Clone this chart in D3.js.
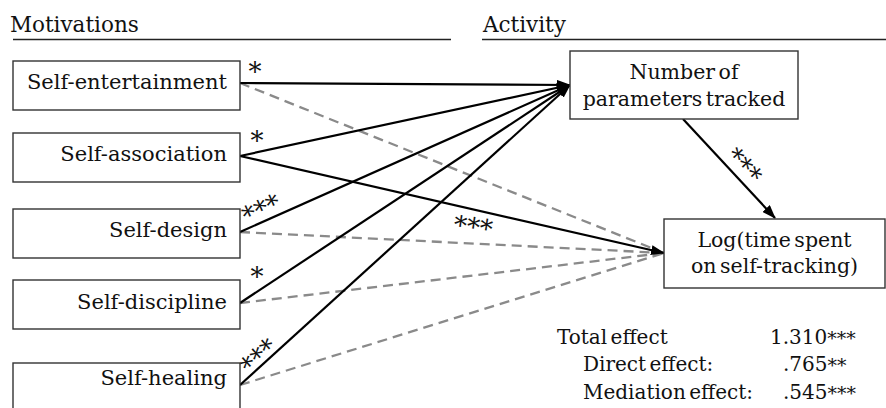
<!DOCTYPE html>
<html>
<head>
<meta charset="utf-8">
<script src="https://cdn.jsdelivr.net/npm/d3@7"></script>
<style>
  html, body { margin: 0; padding: 0; background: #fff; }
  svg { display: block; }
  text { font-family: "DejaVu Serif", Georgia, serif; fill: #111; }
</style>
</head>
<body>
<svg id="chart" width="886" height="408"></svg>
<script>
// Path model: five motivations -> number of parameters tracked -> log(time spent)
const motivations = ["Self-entertainment", "Self-association", "Self-design", "Self-discipline", "Self-healing"];
// significance of each motivation's path to the mediator
const starsToParams = ["*", "*", "***", "*", "***"];
// significance of each motivation's direct path to the outcome ("" = not significant)
const starsToTime = ["", "***", "", "", ""];
const mediatorLabel = ["Number of", "parameters tracked"];
const outcomeLabel = ["Log(time spent", "on self-tracking)"];
const mediatorStars = "***";
const effectLabels = ["Total effect", "Direct effect:", "Mediation effect:"];
const effectValues = ["1.310", ".765", ".545"];
const effectStars = ["***", "**", "***"];

// ---- layout ----
const svg = d3.select("#chart");

const boxLeft = 13, boxRight = 240;
const yBoxTop = d3.scaleOrdinal().domain(motivations).range([61, 133, 209, 280, 363]);
const yAnchor = d3.scaleOrdinal().domain(motivations).range([83, 156, 232, 303, 385]);
const yText = d3.scaleOrdinal().domain(motivations).range([89, 161, 237, 309, 385]);
const boxH = 49;
const starOffsets = [[15, -17], [17, -21], [19, -28], [17, -32], [15, -33]];
const starAngles = [0, 0, -24, 0, -42];

const med = { x: 570, y: 51, w: 228, h: 68, tipX: 570, tipY: 85, outX: 683, outY: 119 };
const out = { x: 664, y: 219, w: 221, h: 69, tipX: 664, tipY: 253, inX: 775, inY: 218 };

const lineStyle = d3.scaleOrdinal().domain(["sig", "ns"]).range(["#000", "#8a8a8a"]);

// arrowhead
svg.append("defs").append("marker")
  .attr("id", "arrow")
  .attr("markerUnits", "userSpaceOnUse")
  .attr("viewBox", "0 0 14 10")
  .attr("refX", 13).attr("refY", 5)
  .attr("markerWidth", 14).attr("markerHeight", 10)
  .attr("orient", "auto")
  .append("path").attr("d", "M0,0 L14,5 L0,10 Z").attr("fill", "#000");

// section headers
const headers = [
  { label: "Motivations", x: 10, x1: 13, x2: 451 },
  { label: "Activity", x: 483, x1: 482, x2: 886 }
];
svg.selectAll("text.header").data(headers).join("text")
  .attr("class", "header")
  .attr("x", d => d.x).attr("y", 32)
  .style("font-size", "21.5px")
  .text(d => d.label);
svg.selectAll("line.header").data(headers).join("line")
  .attr("class", "header")
  .attr("x1", d => d.x1).attr("x2", d => d.x2)
  .attr("y1", 39.5).attr("y2", 39.5)
  .attr("stroke", "#222").attr("stroke-width", 1.3);

// edges
const line = d3.line();
const directEdges = motivations.map((m, i) => ({ m, sig: starsToTime[i] !== "" }));

// non-significant direct paths (dashed, grey) drawn first
svg.append("g").selectAll("path").data(directEdges.filter(d => !d.sig)).join("path")
  .attr("d", d => line([[boxRight, yAnchor(d.m)], [out.tipX, out.tipY]]))
  .attr("fill", "none")
  .attr("stroke", lineStyle("ns"))
  .attr("stroke-width", 2.3)
  .attr("stroke-dasharray", "10,6");

// paths to the mediator
svg.append("g").selectAll("path").data(motivations).join("path")
  .attr("d", m => line([[boxRight, yAnchor(m)], [med.tipX, med.tipY]]))
  .attr("fill", "none")
  .attr("stroke", lineStyle("sig"))
  .attr("stroke-width", 2.2)
  .attr("marker-end", "url(#arrow)");

// significant direct paths
svg.append("g").selectAll("path").data(directEdges.filter(d => d.sig)).join("path")
  .attr("d", d => line([[boxRight, yAnchor(d.m)], [out.tipX, out.tipY]]))
  .attr("fill", "none")
  .attr("stroke", lineStyle("sig"))
  .attr("stroke-width", 2.2)
  .attr("marker-end", "url(#arrow)");

// mediator -> outcome
svg.append("path")
  .attr("d", line([[med.outX, med.outY], [out.inX, out.inY]]))
  .attr("fill", "none").attr("stroke", "#000").attr("stroke-width", 2.2)
  .attr("marker-end", "url(#arrow)");

// motivation boxes
const boxes = svg.append("g").selectAll("g").data(motivations).join("g");
boxes.append("rect")
  .attr("x", boxLeft).attr("y", m => yBoxTop(m))
  .attr("width", boxRight - boxLeft).attr("height", boxH)
  .attr("fill", "#fff").attr("stroke", "#333").attr("stroke-width", 1.4);
boxes.append("text")
  .attr("x", 227).attr("y", m => yText(m))
  .attr("text-anchor", "end")
  .style("font-size", "21px")
  .text(m => m);

// mediator / outcome boxes
function nodeBox(b, lines, baselines) {
  svg.append("rect")
    .attr("x", b.x).attr("y", b.y).attr("width", b.w).attr("height", b.h)
    .attr("fill", "#fff").attr("stroke", "#333").attr("stroke-width", 1.4);
  svg.append("g").selectAll("text").data(lines).join("text")
    .attr("x", b.x + b.w / 2)
    .attr("y", (d, i) => baselines[i])
    .attr("text-anchor", "middle")
    .style("font-size", "20.5px")
    .style("word-spacing", "-3px")
    .text(d => d);
}
nodeBox(med, mediatorLabel, [79, 106]);
nodeBox(out, outcomeLabel, [247, 273]);

// significance stars
const starFs = 26;
function stars(x, y, angle, s) {
  svg.append("text")
    .attr("transform", `translate(${x},${y}) rotate(${angle})`)
    .attr("text-anchor", "middle")
    .attr("y", 15)
    .style("font-size", starFs + "px")
    .text(s);
}
motivations.forEach((m, i) => {
  stars(boxRight + starOffsets[i][0], yAnchor(m) + starOffsets[i][1], starAngles[i], starsToParams[i]);
});
motivations.forEach((m, i) => {
  if (starsToTime[i]) stars(474, 221, 8, starsToTime[i]);
});
stars(748, 162, 47, mediatorStars);

// effect summary
const effY = [344, 371, 399];
const effX = [557, 583, 583];
const valX = [770, 783, 783];
svg.append("g").selectAll("text").data(effectLabels).join("text")
  .attr("x", (d, i) => effX[i]).attr("y", (d, i) => effY[i])
  .style("font-size", "20px")
  .style("word-spacing", "-3px")
  .text(d => d);
const vals = svg.append("g").selectAll("text").data(effectValues).join("text")
  .attr("x", (d, i) => valX[i]).attr("y", (d, i) => effY[i])
  .style("font-size", "20px");
vals.append("tspan").text(d => d);
vals.append("tspan")
  .attr("dy", 1)
  .style("font-size", "19px")
  .text((d, i) => effectStars[i]);
</script>
</body>
</html>
